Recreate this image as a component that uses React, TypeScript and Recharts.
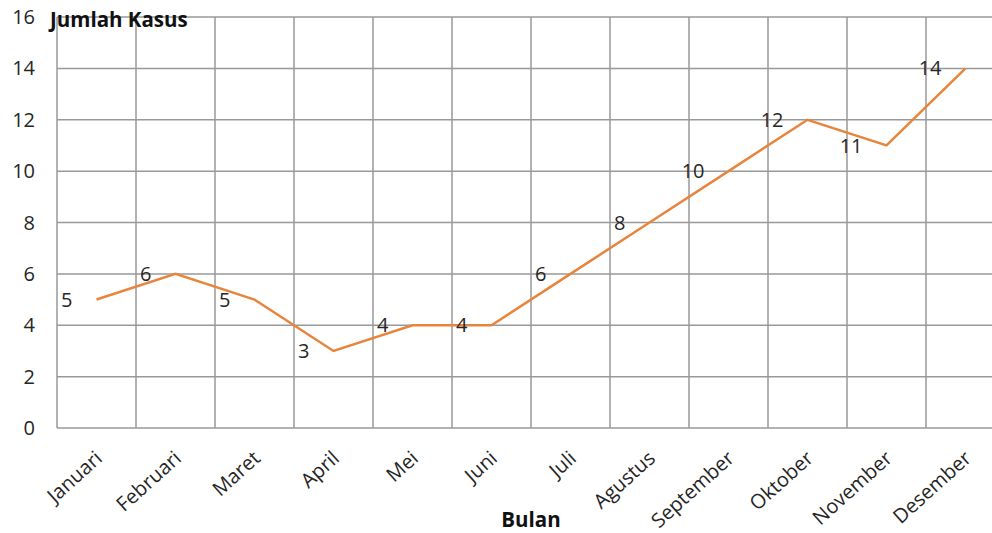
import { LineChart, Line, XAxis, YAxis, CartesianGrid, LabelList, Label } from 'recharts'

const months = ['Januari', 'Februari', 'Maret', 'April', 'Mei', 'Juni', 'Juli', 'Agustus', 'September', 'Oktober', 'November', 'Desember']
const kasus = [5, 6, 5, 3, 4, 4, 6, 8, 10, 12, 11, 14]
const yTicks = [0, 2, 4, 6, 8, 10, 12, 14, 16]

const data = months.map((m, i) => ({ bulan: m, kasus: kasus[i] }))

const FONT = '"Open Sans", sans-serif'
const TEXT = '#262626'
const GRID = '#999999'

function MonthTick({ x, y, payload }: any) {
  const tx = x + 7
  const ty = y + 24
  return (
    <text x={tx} y={ty} textAnchor="end" transform={`rotate(-42, ${tx}, ${ty})`}
      fontFamily={FONT} fontSize={20} fill={TEXT}>
      {payload.value}
    </text>
  )
}

function YTitle({ viewBox }: any) {
  return (
    <text x={viewBox.x + viewBox.width - 7} y={viewBox.y + 10}
      fontFamily={FONT} fontSize={20.5} fontWeight="bold" fill="#111">
      Jumlah Kasus
    </text>
  )
}

export default function App() {
  return (
    <div style={{ position: 'absolute', left: 0, top: 0, width: 992, height: 533, overflow: 'hidden', background: '#fff' }}>
      <LineChart width={1010} height={533} data={data} margin={{ top: 17, right: 5, bottom: 0, left: 0 }}>
        <CartesianGrid stroke={GRID} strokeWidth={1.5}
          verticalCoordinatesGenerator={({ offset }: any) =>
            Array.from({ length: months.length + 1 }, (_, i) => offset.left + (i * offset.width) / months.length)} />
        <XAxis dataKey="bulan" scale="band" interval={0} height={105} axisLine={false} tickLine={false}
          tick={<MonthTick />}>
          <Label value="Bulan" position="insideBottom" offset={6}
            style={{ fontFamily: FONT, fontSize: 20.5, fontWeight: 'bold', fill: '#111' }} />
        </XAxis>
        <YAxis domain={[0, 16]} ticks={yTicks} width={57} axisLine={false} tickLine={false} tickMargin={16}
          tick={{ fontFamily: FONT, fontSize: 20, fill: TEXT }}>
          <Label content={<YTitle />} />
        </YAxis>
        <Line type="linear" dataKey="kasus" stroke="#E8853C" strokeWidth={2.5} dot={false}
          activeDot={false} isAnimationActive={false}>
          <LabelList dataKey="kasus" position="left" offset={24}
            style={{ fontFamily: FONT, fontSize: 20, fill: TEXT }} />
        </Line>
      </LineChart>
    </div>
  )
}
